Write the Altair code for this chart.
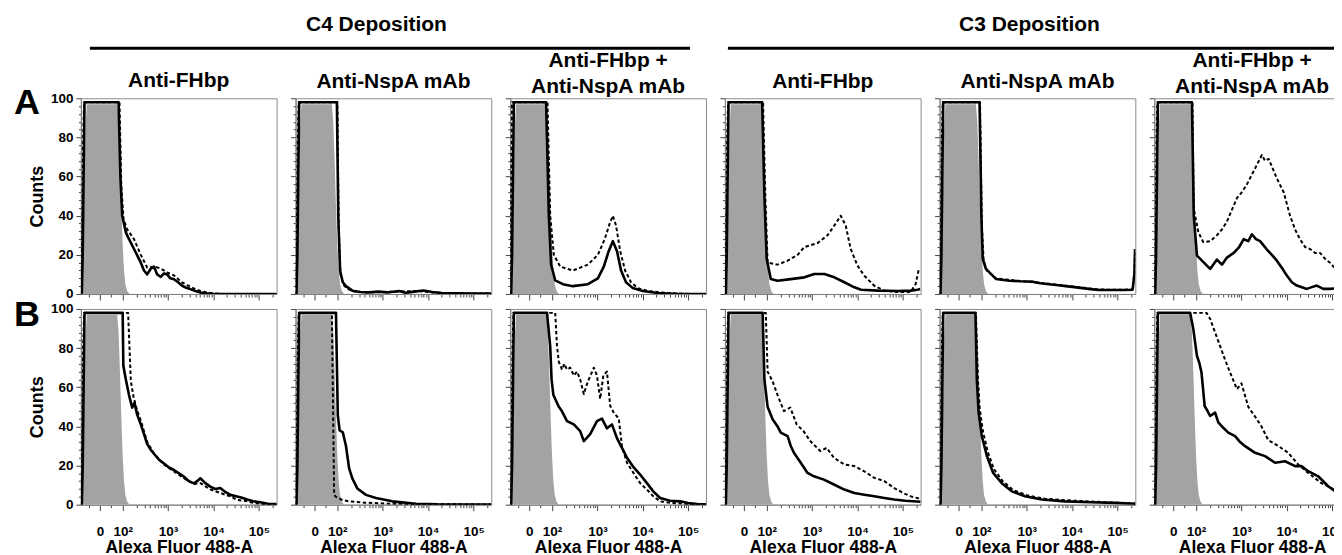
import math
import pandas as pd
import altair as alt

FONT = "Liberation Sans"
GRAY = "#a3a3a3"
FRAME = "#8c8c8c"

# ---- text ----
GROUP_TITLES = ["C4 Deposition", "C3 Deposition"]
ROW_LABELS = ["A", "B"]
PANEL_TITLES = ["Anti-FHbp", "Anti-NspA mAb", ["Anti-FHbp +", "Anti-NspA mAb"],
                "Anti-FHbp", "Anti-NspA mAb", ["Anti-FHbp +", "Anti-NspA mAb"]]
X_TITLE = "Alexa Fluor 488-A"
Y_TITLE = "Counts"

# x is the biexponential display axis in decade units: 1.5 = 0, 2 = 10^2 ... 5 = 10^5
X_MAJOR = [1.5, 2, 3, 4, 5]
X_MAJOR_TEXT = ["0", "10²", "10³", "10⁴", "10⁵"]
X_MINOR = [1.25, 1.75] + [math.log10(k * 10 ** n) for n in (2, 3, 4) for k in range(2, 10)] + [math.log10(2e5)]
X_TICK_VALUES = sorted(X_MAJOR + X_MINOR)
Y_TICK_VALUES = list(range(0, 101, 4))

# ---- data: unstained control (gray) ----
CTRL_X = [1.09, 1.12, 1.15, 1.18, 1.21, 1.88, 1.91, 1.94, 1.97, 2.00, 2.03, 2.06, 2.10, 2.15]
CTRL_Y = [0, 8, 45, 85, 97, 97, 88, 68, 45, 25, 12, 5, 1.5, 0]

# ---- row A ----
A1_SOLID_X = [1.10, 1.12, 1.14, 1.16, 1.91, 1.95, 1.99, 2.07, 2.14, 2.25, 2.40, 2.47, 2.54, 2.62, 2.69, 2.76, 2.84, 2.91, 2.98, 3.05, 3.13, 3.22, 3.31, 3.40, 3.49, 3.60, 3.71, 3.85, 4.00, 5.39]
A1_SOLID_Y = [0, 20, 60, 98, 98, 60, 40, 31.5, 28, 23, 16, 12, 10, 13, 14, 10, 8.7, 10.5, 10, 8, 7.5, 6, 4.2, 3.2, 2.5, 1.5, 0.8, 0.3, 0, 0]
A1_DASH_X = [1.09, 1.11, 1.13, 1.15, 1.93, 1.97, 2.02, 2.10, 2.25, 2.40, 2.54, 2.70, 2.84, 2.98, 3.13, 3.30, 3.45, 3.60, 3.71, 3.85, 4.00, 4.20, 5.39]
A1_DASH_Y = [0, 30, 80, 98, 98, 55, 38, 33, 28, 20, 13.5, 14, 13, 11, 9.5, 6, 4.2, 2.5, 1.5, 0.8, 0.3, 0, 0]

A2_SOLID_X = [1.10, 1.12, 1.14, 1.16, 1.99, 2.02, 2.06, 2.12, 2.19, 2.33, 2.50, 2.70, 2.90, 3.10, 3.36, 3.50, 3.70, 3.90, 4.09, 4.30, 4.60, 5.00, 5.39]
A2_SOLID_Y = [0, 20, 60, 98, 98, 40, 12, 6, 4, 1.7, 1, 0.8, 1.2, 0.8, 1.5, 0.6, 1.2, 1.8, 1.0, 0.5, 0.3, 0.2, 0.2]
A2_DASH_X = [1.09, 1.11, 1.13, 1.15, 2.00, 2.03, 2.07, 2.13, 2.20, 2.33, 2.60, 3.00, 3.40, 3.80, 4.10, 4.50, 5.39]
A2_DASH_Y = [0, 30, 80, 98, 98, 35, 10, 5, 3, 1.5, 0.8, 1, 1.3, 1.5, 0.8, 0.3, 0.2]

A3_SOLID_X = [1.10, 1.12, 1.14, 1.16, 1.87, 1.93, 1.98, 2.07, 2.24, 2.46, 2.79, 3.01, 3.14, 3.25, 3.34, 3.43, 3.52, 3.63, 3.78, 4.00, 4.33, 4.80, 5.39]
A3_SOLID_Y = [0, 20, 60, 98, 98, 40, 15, 7, 5, 4, 5, 8, 14, 22, 27, 22, 12, 6, 3, 1.5, 0.5, 0, 0]
A3_DASH_X = [1.08, 1.10, 1.12, 1.90, 1.96, 2.04, 2.18, 2.46, 2.79, 3.01, 3.16, 3.27, 3.34, 3.41, 3.50, 3.61, 3.74, 3.89, 4.11, 4.55, 5.00, 5.39]
A3_DASH_Y = [0, 60, 98, 98, 40, 20, 14, 12, 15, 20, 28, 36, 40, 35, 22, 12, 6, 3, 1.5, 0.5, 0, 0]

A4_SOLID_X = [1.10, 1.12, 1.14, 1.16, 1.90, 1.95, 2.00, 2.09, 2.24, 2.53, 2.83, 3.05, 3.27, 3.49, 3.71, 3.93, 4.08, 4.45, 4.90, 5.17, 5.32, 5.38]
A4_SOLID_Y = [0, 20, 60, 98, 98, 50, 18, 7.6, 6.8, 7.6, 8.5, 10.2, 10.2, 8.5, 6, 3.4, 2.2, 1.7, 1.5, 1.7, 2.2, 2.5]
A4_DASH_X = [1.09, 1.11, 1.13, 1.15, 1.92, 1.97, 2.02, 2.24, 2.46, 2.68, 2.83, 3.12, 3.34, 3.52, 3.63, 3.74, 3.85, 4.00, 4.15, 4.37, 4.59, 4.88, 5.17, 5.28, 5.35]
A4_DASH_Y = [0, 30, 80, 98, 98, 50, 16, 15, 17, 20, 24, 26, 30, 36, 40, 35, 23, 14.5, 9.3, 4.2, 1.7, 1, 1, 5, 12.7]

A5_SOLID_X = [1.10, 1.12, 1.14, 1.16, 1.96, 2.00, 2.03, 2.10, 2.32, 2.62, 2.85, 3.13, 3.30, 3.49, 3.70, 3.86, 4.05, 4.23, 4.40, 4.59, 4.80, 4.96, 5.15, 5.33, 5.37, 5.385]
A5_SOLID_Y = [0, 20, 60, 98, 98, 40, 18, 12.8, 7.7, 6.8, 6.5, 6.3, 5.5, 5, 4.5, 4, 3.5, 3, 2.5, 2, 2, 2, 2, 2.2, 10, 23]
A5_DASH_X = [1.09, 1.11, 1.13, 1.15, 1.97, 2.01, 2.05, 2.12, 2.32, 2.62, 3.13, 3.49, 3.86, 4.23, 4.59, 4.96, 5.33, 5.37, 5.385]
A5_DASH_Y = [0, 30, 80, 98, 98, 35, 17, 12, 8, 7.2, 6, 5.2, 4.2, 3.2, 2.3, 2.1, 2.3, 11, 22]

A6_SOLID_X = [1.10, 1.12, 1.14, 1.16, 1.91, 1.95, 2.02, 2.13, 2.31, 2.46, 2.57, 2.68, 2.83, 2.95, 3.05, 3.15, 3.23, 3.32, 3.41, 3.56, 3.67, 3.78, 3.90, 4.00, 4.11, 4.22, 4.44, 4.55, 4.66, 4.80, 4.95, 5.14, 5.39]
A6_SOLID_Y = [0, 20, 60, 98, 98, 40, 19.6, 17, 12.8, 17.6, 15, 18.6, 21, 24, 28, 27, 30.5, 28, 27, 22.7, 20, 17, 13, 9.4, 6, 4.3, 2.6, 3.5, 4.3, 2.6, 2.6, 3, 3]
A6_DASH_X = [1.09, 1.11, 1.13, 1.15, 1.92, 1.95, 2.05, 2.16, 2.31, 2.46, 2.57, 2.68, 2.79, 2.90, 3.01, 3.12, 3.23, 3.34, 3.45, 3.52, 3.60, 3.69, 3.78, 3.93, 4.07, 4.18, 4.29, 4.40, 4.51, 4.62, 4.73, 4.84, 4.95, 5.14, 5.39]
A6_DASH_Y = [0, 30, 80, 98, 98, 43.6, 31.6, 26.5, 27, 30, 33, 37, 43, 49, 52, 56, 61, 66, 71, 68, 69, 64, 59, 52, 40, 33, 28, 24, 23, 21, 21, 18, 16, 11, 6]

# ---- row B ----
B1_SOLID_X = [1.10, 1.12, 1.14, 1.16, 2.00, 2.015, 2.07, 2.14, 2.21, 2.26, 2.32, 2.40, 2.47, 2.54, 2.62, 2.69, 2.80, 2.91, 3.02, 3.13, 3.24, 3.35, 3.46, 3.57, 3.64, 3.71, 3.82, 3.93, 4.04, 4.15, 4.26, 4.37, 4.52, 4.63, 4.74, 4.88, 5.03, 5.20, 5.39]
B1_SOLID_Y = [0, 20, 60, 98, 98, 71, 64, 56, 49.6, 52, 46, 41, 36, 31, 28, 26, 23, 21, 19, 17.7, 16, 14.3, 12, 10.9, 12, 13.5, 11, 9.2, 8, 8.5, 6.5, 5, 4.2, 3.5, 2.6, 1.7, 1.2, 0.5, 0.3]
B1_DASH_X = [1.09, 1.11, 1.13, 1.15, 2.12, 2.18, 2.24, 2.32, 2.40, 2.54, 2.69, 2.91, 3.13, 3.35, 3.57, 3.71, 3.93, 4.15, 4.37, 4.52, 4.74, 4.90, 5.10, 5.39]
B1_DASH_Y = [0, 30, 80, 98, 98, 63, 55, 48, 43, 32, 26, 20.5, 17, 13.5, 10.5, 11, 7.8, 6, 4.2, 2.5, 1.7, 0.8, 0.3, 0.2]

B2_SOLID_X = [1.10, 1.12, 1.14, 1.16, 1.97, 2.01, 2.05, 2.12, 2.19, 2.26, 2.33, 2.44, 2.63, 2.85, 3.21, 3.73, 4.20, 5.39]
B2_SOLID_Y = [0, 20, 60, 98, 98, 45.6, 38, 37, 30, 18.5, 13.4, 8.3, 5, 3.4, 1.7, 0.5, 0.2, 0.1]
B2_DASH_X = [1.09, 1.11, 1.13, 1.15, 1.88, 1.93, 1.97, 2.10, 2.26, 2.60, 3.20, 4.00, 5.39]
B2_DASH_Y = [0, 30, 80, 98, 98, 5, 4, 2.5, 1.7, 1, 0.5, 0.2, 0.1]

B3_SOLID_X = [1.10, 1.12, 1.14, 1.16, 1.89, 1.96, 1.99, 2.03, 2.15, 2.22, 2.33, 2.48, 2.62, 2.70, 2.84, 2.99, 3.10, 3.21, 3.32, 3.43, 3.54, 3.65, 3.80, 3.94, 4.09, 4.23, 4.38, 4.60, 4.82, 5.00, 5.20, 5.39]
B3_SOLID_Y = [0, 20, 60, 98, 98, 81, 64, 56, 50, 47.7, 42.7, 41, 37.6, 32.5, 36, 42.7, 44, 39, 41, 34, 29, 24, 19, 15.4, 11, 6.8, 3.4, 2, 1.7, 0.8, 0.3, 0.2]
B3_DASH_X = [1.09, 1.11, 1.13, 1.15, 2.07, 2.11, 2.15, 2.22, 2.27, 2.33, 2.40, 2.48, 2.55, 2.62, 2.70, 2.76, 2.81, 2.92, 2.99, 3.06, 3.13, 3.21, 3.28, 3.36, 3.47, 3.54, 3.65, 3.80, 3.94, 4.09, 4.23, 4.38, 4.60, 5.00, 5.39]
B3_DASH_Y = [0, 30, 80, 98, 98, 81, 73, 69, 72, 69, 70, 66, 68, 64, 56.5, 61, 64, 70, 66, 54, 66, 68, 50.6, 47, 44, 30, 21.4, 16, 11, 7.7, 4.3, 1.7, 1, 0.3, 0.2]

B4_SOLID_X = [1.10, 1.12, 1.14, 1.16, 1.91, 1.95, 2.02, 2.13, 2.24, 2.31, 2.46, 2.53, 2.60, 2.75, 2.90, 3.04, 3.26, 3.48, 3.71, 3.93, 4.15, 4.37, 4.59, 4.81, 5.05, 5.39]
B4_SOLID_Y = [0, 20, 60, 98, 98, 64, 50, 43.6, 40, 36.8, 35, 30, 26.5, 21.4, 16.2, 14.5, 12.8, 10.3, 7.7, 6, 5.1, 4.3, 3.4, 2.6, 2, 1.5]
B4_DASH_X = [1.09, 1.11, 1.13, 1.15, 1.98, 2.02, 2.13, 2.24, 2.38, 2.52, 2.66, 2.81, 2.96, 3.18, 3.32, 3.48, 3.71, 3.93, 4.15, 4.37, 4.59, 4.81, 5.00, 5.20, 5.39]
B4_DASH_Y = [0, 30, 80, 98, 98, 68, 63, 56, 47.8, 49.6, 41, 37.6, 32.5, 27.4, 29, 24, 20.5, 19.7, 17, 13.7, 12, 8.5, 6, 4, 3]

B5_SOLID_X = [1.10, 1.12, 1.14, 1.16, 1.87, 1.90, 1.94, 2.01, 2.12, 2.26, 2.45, 2.67, 2.96, 3.33, 3.84, 4.42, 4.94, 5.39]
B5_SOLID_Y = [0, 20, 60, 98, 98, 64, 47, 35, 25, 16.2, 11, 6.8, 4.3, 2.6, 1.7, 1.2, 0.9, 0.5]
B5_DASH_X = [1.09, 1.11, 1.13, 1.15, 1.88, 1.92, 1.96, 2.03, 2.14, 2.28, 2.47, 2.70, 3.00, 3.40, 3.90, 4.42, 4.94, 5.39]
B5_DASH_Y = [0, 30, 80, 98, 98, 66, 50, 38, 27, 18, 12, 7.5, 4.8, 3, 2.2, 1.6, 1.0, 0.6]

B6_SOLID_X = [1.10, 1.12, 1.14, 1.16, 1.87, 1.94, 2.02, 2.07, 2.12, 2.19, 2.25, 2.31, 2.42, 2.49, 2.56, 2.71, 2.86, 2.97, 3.08, 3.30, 3.52, 3.74, 3.96, 4.18, 4.32, 4.47, 4.69, 4.91, 5.07, 5.39]
B6_SOLID_Y = [0, 20, 60, 98, 98, 89.7, 76, 72.6, 67.5, 50.4, 48, 45.3, 47, 42, 40.2, 36.8, 35, 32, 29.9, 26.5, 24.8, 21.4, 22.2, 19.7, 19.7, 17.1, 14.5, 9.4, 6.8, 4]
B6_DASH_X = [1.09, 1.11, 1.13, 1.15, 2.23, 2.31, 2.42, 2.53, 2.64, 2.75, 2.90, 3.00, 3.15, 3.30, 3.44, 3.59, 3.81, 4.03, 4.25, 4.47, 4.76, 4.98, 5.20, 5.39]
B6_DASH_Y = [0, 30, 80, 98, 98, 95, 88, 81, 74, 67.5, 59, 62, 50, 45, 40, 33, 30, 26.5, 20.5, 16.2, 11, 8.5, 5, 3]

ROWS = [
    [(A1_SOLID_X, A1_SOLID_Y, A1_DASH_X, A1_DASH_Y), (A2_SOLID_X, A2_SOLID_Y, A2_DASH_X, A2_DASH_Y),
     (A3_SOLID_X, A3_SOLID_Y, A3_DASH_X, A3_DASH_Y), (A4_SOLID_X, A4_SOLID_Y, A4_DASH_X, A4_DASH_Y),
     (A5_SOLID_X, A5_SOLID_Y, A5_DASH_X, A5_DASH_Y), (A6_SOLID_X, A6_SOLID_Y, A6_DASH_X, A6_DASH_Y)],
    [(B1_SOLID_X, B1_SOLID_Y, B1_DASH_X, B1_DASH_Y), (B2_SOLID_X, B2_SOLID_Y, B2_DASH_X, B2_DASH_Y),
     (B3_SOLID_X, B3_SOLID_Y, B3_DASH_X, B3_DASH_Y), (B4_SOLID_X, B4_SOLID_Y, B4_DASH_X, B4_DASH_Y),
     (B5_SOLID_X, B5_SOLID_Y, B5_DASH_X, B5_DASH_Y), (B6_SOLID_X, B6_SOLID_Y, B6_DASH_X, B6_DASH_Y)],
]

X_MIN, X_MAX = 1.08, 5.39
PANEL_W, PANEL_H = 196, 196
SPACING_COL, SPACING_ROW = 19, 15

X_LABEL_EXPR = "".join(
    f"datum.value === {v} ? '{t}' : " for v, t in zip(X_MAJOR, X_MAJOR_TEXT)
) + "''"
X_MAJOR_TEST = " || ".join(f"datum.value === {v}" for v in X_MAJOR)


def sdf(xs, ys):
    return pd.DataFrame({"d": xs, "c": ys, "i": list(range(len(xs)))})


def text_layer(txt, x, y, size, align="center"):
    return alt.Chart(pd.DataFrame({"t": [txt]})).mark_text(
        font=FONT, fontSize=size, fontWeight="bold", color="black",
        align=align, baseline="alphabetic"
    ).encode(text="t:N", x=alt.value(x), y=alt.value(y))


def rule_layer(x1, x2, y, color="black", width=3):
    return alt.Chart(pd.DataFrame({"k": [0]})).mark_rule(
        color=color, strokeWidth=width
    ).encode(x=alt.value(x1), x2=alt.value(x2), y=alt.value(y))


def make_panel(r, c, sx, sy, dx, dy):
    bottom = r == 1
    left = c == 0

    xkw = dict(values=X_TICK_VALUES, labelExpr=X_LABEL_EXPR, labels=bottom, grid=False,
               tickSize={"condition": {"test": X_MAJOR_TEST, "value": 6}, "value": 3},
               labelOverlap=False, labelFlush=False, labelPadding=14, labelFontSize=13.5)
    if bottom:
        xkw.update(title=X_TITLE, titleY=48, titleBaseline="alphabetic", titleFontSize=17.5)
    else:
        xkw.update(title=None)
    ykw = dict(values=Y_TICK_VALUES, labelExpr="datum.value % 20 === 0 ? datum.label : ''",
               labels=left, grid=False,
               tickSize={"condition": {"test": "datum.value % 20 === 0", "value": 5}, "value": 2.5},
               labelPadding=3, labelFontSize=13.5, labelOverlap=False)
    if left:
        ykw.update(title=Y_TITLE, titleX=-38, titleBaseline="alphabetic", titleFontSize=18)
    else:
        ykw.update(title=None)

    x = alt.X("d:Q", scale=alt.Scale(domain=[X_MIN, X_MAX], nice=False, zero=False),
              axis=alt.Axis(**xkw))
    y = alt.Y("c:Q", scale=alt.Scale(domain=[0, 100], nice=False), axis=alt.Axis(**ykw))

    layers = [
        alt.Chart(sdf(CTRL_X, CTRL_Y)).mark_area(color=GRAY, opacity=1, clip=True).encode(x=x, y=y),
        alt.Chart(sdf(dx, dy)).mark_line(color="black", strokeWidth=2, strokeDash=[3.5, 2.5],
                                          strokeJoin="round", clip=True).encode(x=x, y=y, order="i:Q"),
        alt.Chart(sdf(sx, sy)).mark_line(color="black", strokeWidth=2.6,
                                          strokeJoin="round", clip=True).encode(x=x, y=y, order="i:Q"),
    ]
    # figure-level labels are anchored on row B panels (row B has no titles above it)
    if r == 1 and c == 0:
        layers.append(text_layer(ROW_LABELS[0], -67, -195, 36, align="left"))
        layers.append(text_layer(ROW_LABELS[1], -67, 17, 36, align="left"))
        layers.append(text_layer(GROUP_TITLES[0], 296, -278, 21))
        layers.append(rule_layer(9, 610, -261))
    if r == 1 and c == 3:
        layers.append(text_layer(GROUP_TITLES[1], 305, -278, 21))
        layers.append(rule_layer(3, 626, -261))

    ch = alt.layer(*layers).properties(width=PANEL_W, height=PANEL_H)
    if r == 0:
        t = PANEL_TITLES[c]
        if isinstance(t, list):
            off = 1
        elif left:
            off = 0
        else:
            off = 6
        ch = ch.properties(title=alt.TitleParams(text=t, offset=off))
    return ch


panels = [make_panel(r, c, *ROWS[r][c]) for r in range(2) for c in range(6)]

chart = alt.concat(
    *panels, columns=6, spacing={"row": SPACING_ROW, "column": SPACING_COL}, bounds="flush"
).properties(
    # the figure is cut at the right edge, like the original
    padding={"left": 5, "top": 5, "right": -18, "bottom": 0}
).configure_view(
    stroke=FRAME, strokeWidth=1
).configure_axis(
    domainColor="#808080", domainWidth=1, tickColor="#444444", tickWidth=1,
    labelColor="black", titleColor="black", labelFont=FONT, titleFont=FONT,
    labelFontWeight="bold", titleFontWeight="bold"
).configure_title(
    font=FONT, fontWeight="bold", fontSize=21, color="black", anchor="middle", lineHeight=26
)

chart.save("out.html", embed_options={"renderer": "svg", "actions": False})
